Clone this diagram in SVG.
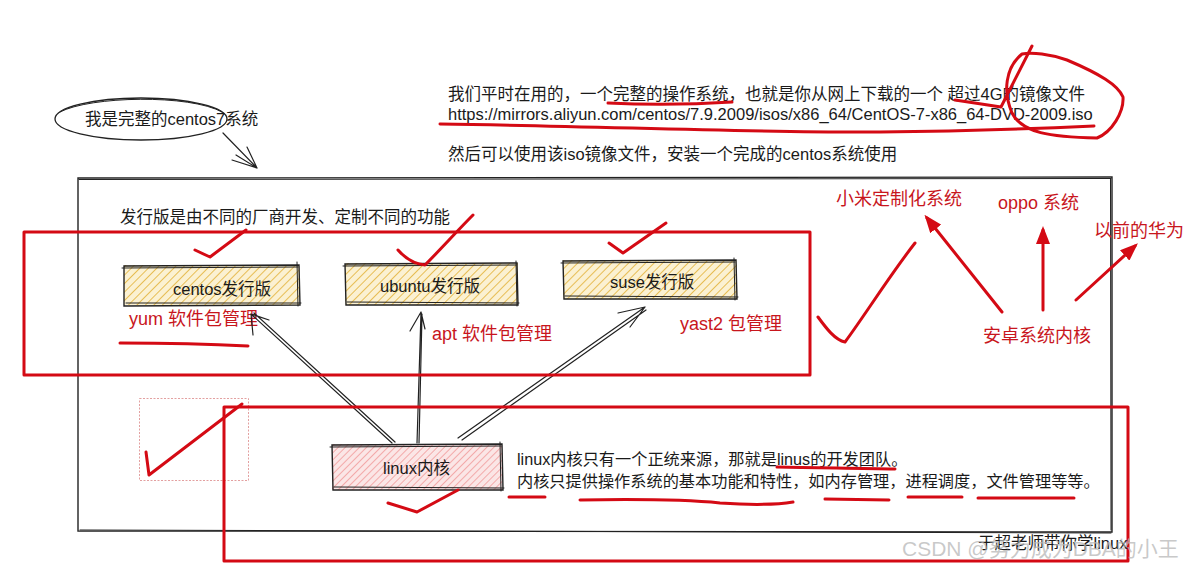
<svg xmlns="http://www.w3.org/2000/svg" width="1190" height="571" viewBox="0 0 1190 571">
<defs>
<style>
.t{font-family:"Liberation Sans","Noto Sans CJK SC",sans-serif;font-size:16.5px;fill:#1a1a1a}
.k{font-size:16.2px}
.r{font-family:"Liberation Sans","Noto Sans CJK SC",sans-serif;font-size:18px;fill:#c8161d}
.red{fill:none;stroke:#d40a14;stroke-width:3;stroke-linecap:round;stroke-linejoin:round}
.ink{fill:none;stroke:#222;stroke-width:1.2;stroke-linecap:round}
.thin{fill:none;stroke:#222;stroke-width:1;stroke-linecap:round}
.box{stroke:#222;stroke-width:1.4;fill:none}
</style>
<pattern id="hy" width="6" height="6" patternUnits="userSpaceOnUse" patternTransform="rotate(45)">
<rect width="6" height="6" fill="#fbf1d2"/>
<line x1="0" y1="0" x2="0" y2="6" stroke="#e5b746" stroke-width="1.8"/>
</pattern>
<pattern id="hp" width="5" height="5" patternUnits="userSpaceOnUse" patternTransform="rotate(45)">
<rect width="5" height="5" fill="#fbe6e6"/>
<line x1="0" y1="0" x2="0" y2="5" stroke="#ef8a8a" stroke-width="1.3"/>
</pattern>
<marker id="ra" markerUnits="userSpaceOnUse" markerWidth="18" markerHeight="14" refX="14" refY="7" orient="auto">
<path d="M0,0 L18,7 L0,14 z" fill="#d40a14"/>
</marker>
</defs>
<rect width="1190" height="571" fill="#ffffff"/>

<g id="main-frame">
<path class="box" d="M78,178 L1112,177 L1112,532 L78,531 Z"/>
<path class="thin" d="M79,179.5 L1111,178.5 M1110.5,179 L1111,530 M80,530 L1111,533"/>
</g>

<g id="note-centos7">
<ellipse cx="141" cy="119" rx="86" ry="21" fill="none" stroke="#222" stroke-width="1.3"/>
<path class="thin" d="M60,112 C90,96 190,94 222,112"/>
<text class="t" x="85" y="125">我是完整的centos7系统</text>
</g>

<g id="note-top">
<text class="t" x="448" y="100">我们平时在用的，一个完整的操作系统，也就是你从网上下载的一个 超过4G的镜像文件</text>
<text class="t" x="448" y="120">https://mirrors.aliyun.com/centos/7.9.2009/isos/x86_64/CentOS-7-x86_64-DVD-2009.iso</text>
<text class="t" x="448" y="160">然后可以使用该iso镜像文件，安装一个完成的centos系统使用</text>
</g>

<g id="note-dist">
<text class="t" x="120" y="223">发行版是由不同的厂商开发、定制不同的功能</text>
</g>

<g id="node-centos">
<rect x="124" y="265" width="175" height="40" fill="url(#hy)"/>
<path class="box" d="M124,266 L299,265 L300,305 L124,306 Z"/>
<path class="thin" d="M122,268 L298,267 M126,303 L301,303 M297,262 L298,306"/>
<text class="t" x="173" y="295">centos发行版</text>
</g>

<g id="node-ubuntu">
<rect x="345" y="263" width="173" height="42" fill="url(#hy)"/>
<path class="box" d="M345,264 L517,263 L518,305 L346,305 Z"/>
<path class="thin" d="M343,266 L516,265 M347,302 L519,303 M516,261 L517,306"/>
<text class="t" x="380" y="292">ubuntu发行版</text>
</g>

<g id="node-suse">
<rect x="563" y="260" width="174" height="39" fill="url(#hy)"/>
<path class="box" d="M563,261 L736,260 L737,299 L564,299 Z"/>
<path class="thin" d="M561,263 L735,262 M565,296 L738,297 M734,258 L735,300"/>
<text class="t" x="610" y="288">suse发行版</text>
</g>

<g id="node-kernel">
<rect x="332" y="444" width="170" height="46" fill="url(#hp)"/>
<path class="box" d="M332,445 L502,444 L503,490 L333,490 Z"/>
<path class="thin" d="M330,447 L501,446 M334,487 L504,488 M500,442 L501,491"/>
<text class="t" x="383" y="474">linux内核</text>
</g>

<g id="note-kernel">
<text class="t k" x="517" y="465">linux内核只有一个正统来源，那就是linus的开发团队。</text>
<text class="t k" x="517" y="487">内核只提供操作系统的基本功能和特性，如内存管理，进程调度，文件管理等等。</text>
</g>

<g id="label-yum"><text class="r" x="129" y="325">yum 软件包管理</text></g>
<g id="label-apt"><text class="r" x="432" y="340">apt 软件包管理</text></g>
<g id="label-yast"><text class="r" x="680" y="330">yast2 包管理</text></g>
<g id="label-xiaomi"><text class="r" x="836" y="205">小米定制化系统</text></g>
<g id="label-oppo"><text class="r" x="998" y="209">oppo 系统</text></g>
<g id="label-huawei"><text class="r" x="1094" y="237">以前的华为</text></g>
<g id="label-android"><text class="r" x="983" y="342">安卓系统内核</text></g>

<g id="placeholder">
<rect x="139.5" y="398.5" width="109" height="82" fill="none" stroke="#e3a0a0" stroke-width="1" stroke-dasharray="2,1.5"/>
</g>

<g id="connectors">
<path class="ink" d="M223,133 L257,168 M257,168 L232,160 M257,168 L236,155 M257,168 L247,147"/>
<path class="ink" d="M392,443 L251,314 M395,442 L254,313 M251,314 L253,335 M251,314 L269,320"/>
<path class="ink" d="M417,443 L421,312 M419,443 L422,314 M421,312 L410,331 M421,312 L425,329"/>
<path class="ink" d="M458,438 L645,307 M462,440 L646,310 M645,307 L618,313 M645,307 L630,327"/>
<path class="red" marker-end="url(#ra)" d="M1002,312 L927,218"/>
<path class="red" marker-end="url(#ra)" d="M1043,310 L1043,230"/>
<path class="red" marker-end="url(#ra)" d="M1076,300 L1135,246"/>
</g>

<g id="annotations">
<path class="red" d="M24,232 L810,232 L810,375 L24,375 Z"/>
<path class="red" d="M224,561 L224,407 L1128,407 L1128,561 Z"/>
<path class="red" d="M608,103 C650,105 700,104 732,102"/>
<path class="red" d="M440,124 C600,126 750,133 880,132 C980,131 1050,128 1094,126"/>
<path class="red" d="M955,100 L1001,107 L1032,46"/>
<path class="red" d="M1022,54 C1005,68 1003,92 1012,113 C1022,133 1050,137 1097,138 C1112,132 1124,112 1123,97 C1118,85 1100,74 1067,60 C1050,54 1032,52 1022,54"/>
<path class="red" d="M195,250 L210,257 L246,230"/>
<path class="red" d="M398,250 C405,258 415,264 425,265 C440,250 458,230 473,215"/>
<path class="red" d="M609,243 L623,253 L666,223"/>
<path class="red" d="M818,317 C826,328 835,340 845,342 C865,315 890,275 915,243"/>
<path class="red" d="M120,343 C170,343 210,344 248,346"/>
<path class="red" d="M146,452 L149,475 L242,404"/>
<path class="red" d="M388,503 L417,512 L458,490"/>
<path class="red" d="M777,467 C820,468 860,468 895,469"/>
<path class="red" d="M509,497 L545,497"/>
<path class="red" d="M580,500 C640,499 690,500 720,503 C750,505 775,505 793,502"/>
<path class="red" d="M825,499 L889,500"/>
<path class="red" d="M908,497 L962,497"/>
<path class="red" d="M978,498 L1074,498"/>
</g>

<g id="footer">
<text class="t" x="978" y="549">于超老师带你学linux</text>
<text x="902" y="556" style="font-family:'Liberation Sans','Noto Sans CJK SC',sans-serif;font-size:21px;fill:#b8b8b8;fill-opacity:0.75">CSDN @努力成为DBA的小王</text>
</g>
</svg>
